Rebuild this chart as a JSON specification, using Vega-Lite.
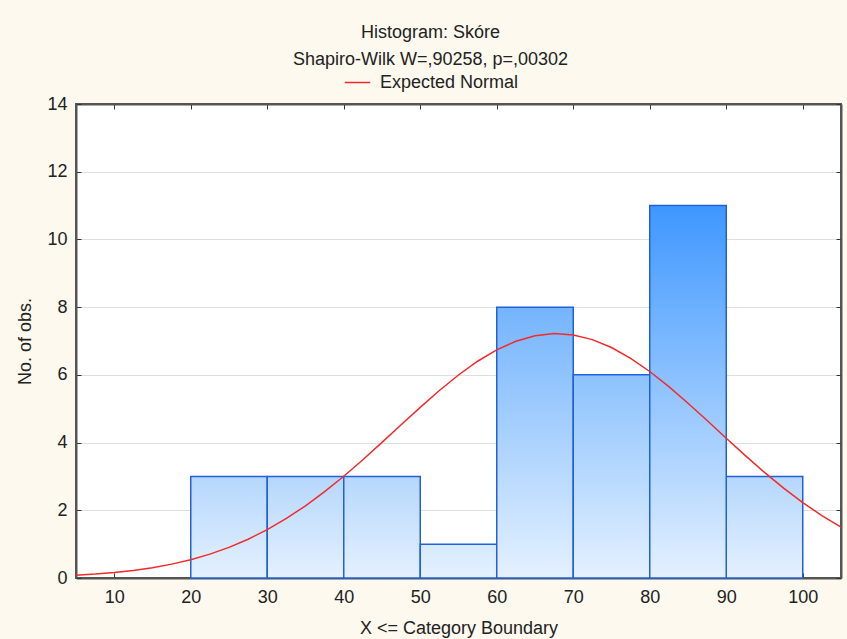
{
  "$schema": "https://vega.github.io/schema/vega-lite/v6.json",
  "width": 765,
  "height": 474,
  "autosize": {"type": "none"},
  "padding": {"left": 76, "top": 104, "right": 6, "bottom": 61},
  "background": "#fdf9ef",
  "config": {
    "view": {"stroke": "#555555", "strokeWidth": 2, "fill": "white"},
    "font": "Liberation Sans",
    "axis": {
      "labelFont": "Liberation Sans", "titleFont": "Liberation Sans",
      "labelFontSize": 18, "titleFontSize": 18, "titleFontWeight": "normal",
      "labelColor": "#222222", "titleColor": "#222222",
      "domainColor": "#555555", "domainWidth": 2,
      "tickColor": "#333333", "tickSize": -5, "tickWidth": 1
    },
    "legend": {"labelFont": "Liberation Sans"}
  },
  "title": {
    "text": ["Histogram: Skóre", "Shapiro-Wilk W=,90258, p=,00302"],
    "font": "Liberation Sans", "fontSize": 18, "fontWeight": "normal", "color": "#222222",
    "anchor": "middle", "frame": "group", "lineHeight": 27, "offset": 0, "dx": -28
  },
  "datasets": {
    "bins": [
      {"start": 20, "end": 30, "count": 3},
      {"start": 30, "end": 40, "count": 3},
      {"start": 40, "end": 50, "count": 3},
      {"start": 50, "end": 60, "count": 1},
      {"start": 60, "end": 70, "count": 8},
      {"start": 70, "end": 80, "count": 6},
      {"start": 80, "end": 90, "count": 11},
      {"start": 90, "end": 100, "count": 3}
    ],
    "curve": [
      {"x": 5, "y": 0.083}, {"x": 7.5, "y": 0.117}, {"x": 10, "y": 0.164}, {"x": 12.5, "y": 0.225},
      {"x": 15, "y": 0.306}, {"x": 17.5, "y": 0.410}, {"x": 20, "y": 0.541}, {"x": 22.5, "y": 0.705},
      {"x": 25, "y": 0.905}, {"x": 27.5, "y": 1.145}, {"x": 30, "y": 1.429}, {"x": 32.5, "y": 1.758},
      {"x": 35, "y": 2.132}, {"x": 37.5, "y": 2.550}, {"x": 40, "y": 3.006}, {"x": 42.5, "y": 3.494},
      {"x": 45, "y": 4.005}, {"x": 47.5, "y": 4.525}, {"x": 50, "y": 5.041}, {"x": 52.5, "y": 5.537},
      {"x": 55, "y": 5.996}, {"x": 57.5, "y": 6.402}, {"x": 60, "y": 6.739}, {"x": 62.5, "y": 6.994},
      {"x": 65, "y": 7.156}, {"x": 67.5, "y": 7.220}, {"x": 70, "y": 7.180}, {"x": 72.5, "y": 7.041},
      {"x": 75, "y": 6.808}, {"x": 77.5, "y": 6.489}, {"x": 80, "y": 6.099}, {"x": 82.5, "y": 5.651},
      {"x": 85, "y": 5.162}, {"x": 87.5, "y": 4.650}, {"x": 90, "y": 4.129}, {"x": 92.5, "y": 3.615},
      {"x": 95, "y": 3.121}, {"x": 97.5, "y": 2.656}, {"x": 100, "y": 2.228}, {"x": 102.5, "y": 1.844},
      {"x": 105, "y": 1.504}
    ]
  },
  "resolve": {"axis": {"x": "independent", "y": "independent"}},
  "layer": [
    {
      "data": {"name": "bins"},
      "encoding": {
        "x": {"field": "start", "type": "quantitative",
              "scale": {"domain": [5, 105], "nice": false, "zero": false},
              "axis": {"orient": "bottom", "values": [10, 20, 30, 40, 50, 60, 70, 80, 90, 100],
                       "grid": false, "labelPadding": 15, "title": "X <= Category Boundary", "titlePadding": 13}},
        "x2": {"field": "end"},
        "y": {"field": "count", "type": "quantitative",
              "scale": {"domain": [0, 14], "nice": false},
              "axis": {"orient": "left", "values": [0, 2, 4, 6, 8, 10, 12, 14], "grid": true,
                       "gridColor": "#dedede", "gridWidth": 1.2, "labelPadding": 14,
                       "title": "No. of obs.", "titlePadding": 12}},
        "y2": {"datum": 0}
      },
      "layer": [
        {"transform": [{"filter": "datum.count == 3"}],
         "mark": {"type": "bar", "stroke": "#2060dc", "strokeWidth": 1.5,
                  "fill": {"gradient": "linear", "x1": 0, "y1": 1, "x2": 0, "y2": 0,
                           "stops": [{"offset": 0, "color": "#e4f1ff"}, {"offset": 1, "color": "#b5d7fc"}]}}},
        {"transform": [{"filter": "datum.count == 1"}],
         "mark": {"type": "bar", "stroke": "#2060dc", "strokeWidth": 1.5,
                  "fill": {"gradient": "linear", "x1": 0, "y1": 1, "x2": 0, "y2": 0,
                           "stops": [{"offset": 0, "color": "#e4f1ff"}, {"offset": 1, "color": "#d6e9fe"}]}}},
        {"transform": [{"filter": "datum.count == 8"}],
         "mark": {"type": "bar", "stroke": "#2060dc", "strokeWidth": 1.5,
                  "fill": {"gradient": "linear", "x1": 0, "y1": 1, "x2": 0, "y2": 0,
                           "stops": [{"offset": 0, "color": "#e4f1ff"}, {"offset": 1, "color": "#74b4fd"}]}}},
        {"transform": [{"filter": "datum.count == 6"}],
         "mark": {"type": "bar", "stroke": "#2060dc", "strokeWidth": 1.5,
                  "fill": {"gradient": "linear", "x1": 0, "y1": 1, "x2": 0, "y2": 0,
                           "stops": [{"offset": 0, "color": "#e4f1ff"}, {"offset": 1, "color": "#8cc2fd"}]}}},
        {"transform": [{"filter": "datum.count == 11"}],
         "mark": {"type": "bar", "stroke": "#2060dc", "strokeWidth": 1.5,
                  "fill": {"gradient": "linear", "x1": 0, "y1": 1, "x2": 0, "y2": 0,
                           "stops": [{"offset": 0, "color": "#e4f1ff"}, {"offset": 1, "color": "#3e97ff"}]}}}
      ]
    },
    {
      "data": {"name": "curve"},
      "mark": {"type": "line", "strokeWidth": 1.5, "clip": true},
      "encoding": {
        "x": {"field": "x", "type": "quantitative",
              "scale": {"domain": [5, 105], "nice": false, "zero": false},
              "axis": {"orient": "top", "values": [10, 20, 30, 40, 50, 60, 70, 80, 90, 100],
                       "labels": false, "title": null, "grid": false}},
        "y": {"field": "y", "type": "quantitative",
              "scale": {"domain": [0, 14], "nice": false},
              "axis": {"orient": "right", "values": [0, 2, 4, 6, 8, 10, 12, 14],
                       "labels": false, "title": null, "grid": false}},
        "color": {"datum": "Expected Normal", "type": "nominal",
                  "scale": {"range": ["#f22a2a"]},
                  "legend": {"title": null, "orient": "none", "legendX": 268, "legendY": -35,
                             "symbolType": "stroke", "symbolSize": 650, "symbolStrokeWidth": 1.5,
                             "labelOffset": 9, "labelFontSize": 18, "labelColor": "#222222", "labelFont": "Liberation Sans"}}
      }
    }
  ]
}
